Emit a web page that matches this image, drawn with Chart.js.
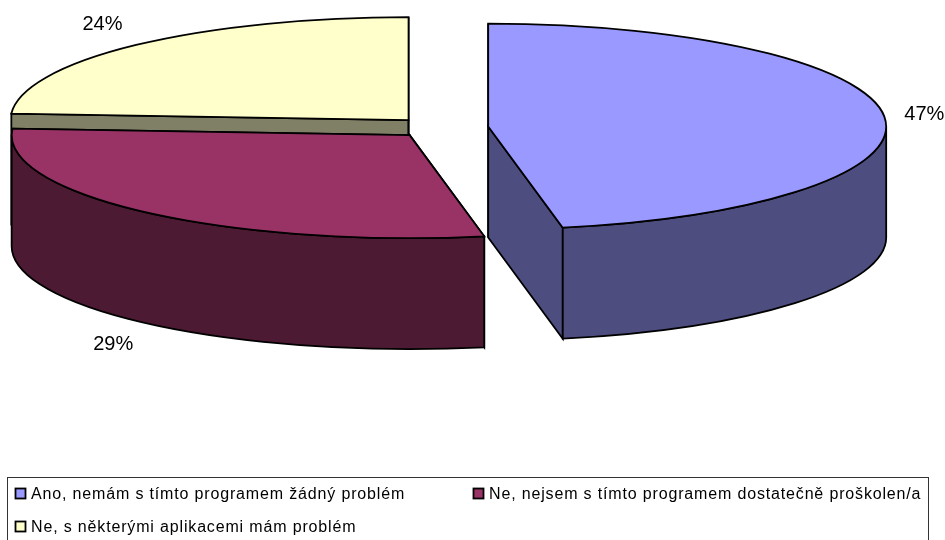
<!DOCTYPE html>
<html lang="cs">
<head>
  <meta charset="UTF-8">
  <title>Koláčový graf</title>
  <script src="https://cdn.jsdelivr.net/npm/chart.js"></script>
  <style>
    html, body { margin: 0; padding: 0; background: white; overflow: hidden; }
    canvas { display: block; }
  </style>
</head>
<body>
  <canvas id="pieChart" width="945" height="540"></canvas>

  <script>
    const labels = [
      'Ano, nemám s tímto programem žádný problém',
      'Ne, nejsem s tímto programem dostatečně proškolen/a',
      'Ne, s některými aplikacemi mám problém'
    ];
    const values = [47, 29, 24];
    const topColors = ['#9999ff', '#993366', '#ffffcc'];
    const wallColors = ['#4d4d80', '#4d1a33', '#808066'];

    // pie tilt: ellipse radii, wall height, how far slices are pulled out
    const rx = 398, ry = 103, depth = 111;
    const explodeX = 47.4, explodeY = 10.2;
    const drawOrder = [2, 0, 1]; // back to front
    const edgeWidth = 1.8;

    function sliceCenter(arc) {
      const mid = (arc.startAngle + arc.endAngle) / 2;
      return { x: arc.x + Math.cos(mid) * explodeX, y: arc.y + Math.sin(mid) * explodeY };
    }

    function rimPoint(c, angle) {
      return { x: c.x + rx * Math.cos(angle), y: c.y + ry * Math.sin(angle) };
    }

    function paint(ctx, color) {
      ctx.fillStyle = color;
      ctx.fill();
      ctx.lineWidth = edgeWidth;
      ctx.strokeStyle = '#000';
      ctx.stroke();
    }

    function drawCutFace(ctx, c, angle, color) {
      const p = rimPoint(c, angle);
      ctx.beginPath();
      ctx.moveTo(c.x, c.y);
      ctx.lineTo(p.x, p.y);
      ctx.lineTo(p.x, p.y + depth);
      ctx.lineTo(c.x, c.y + depth);
      ctx.closePath();
      paint(ctx, color);
    }

    function drawOuterWall(ctx, c, arc, color) {
      const from = Math.max(arc.startAngle, 0);
      const to = Math.min(arc.endAngle, Math.PI);
      if (from >= to) return;
      ctx.beginPath();
      ctx.ellipse(c.x, c.y, rx, ry, 0, from, to);
      ctx.ellipse(c.x, c.y + depth, rx, ry, 0, to, from, true);
      ctx.closePath();
      paint(ctx, color);
    }

    const pie3d = {
      id: 'pie3d',
      beforeDatasetDraw(chart, args) {
        const ctx = chart.ctx;
        const arcs = args.meta.data;
        drawOrder.forEach(i => {
          const arc = arcs[i];
          const c = sliceCenter(arc);
          drawCutFace(ctx, c, arc.startAngle, wallColors[i]);
          drawCutFace(ctx, c, arc.endAngle, wallColors[i]);
          drawOuterWall(ctx, c, arc, wallColors[i]);

          // top face comes from the library's arc, squashed into the ellipse
          ctx.save();
          ctx.translate(c.x, c.y);
          ctx.scale(rx / arc.outerRadius, ry / arc.outerRadius);
          ctx.translate(-arc.x, -arc.y);
          arc.draw(ctx);
          ctx.restore();

          ctx.beginPath();
          ctx.moveTo(c.x, c.y);
          ctx.ellipse(c.x, c.y, rx, ry, 0, arc.startAngle, arc.endAngle);
          ctx.closePath();
          ctx.lineWidth = edgeWidth;
          ctx.strokeStyle = '#000';
          ctx.stroke();
        });
        return false;
      },
      afterDraw(chart) {
        const ctx = chart.ctx;
        const arcs = chart.getDatasetMeta(0).data;
        ctx.save();

        // percentage labels, pushed out from the rim of each slice
        ctx.font = '20px "Liberation Sans", Arial, sans-serif';
        ctx.fillStyle = '#000';
        ctx.textBaseline = 'middle';
        arcs.forEach((arc, i) => {
          const mid = (arc.startAngle + arc.endAngle) / 2;
          const p = rimPoint(sliceCenter(arc), mid);
          const wall = Math.sin(mid) > 0 ? depth : 0;
          ctx.textAlign = Math.cos(mid) > 0 ? 'left' : 'right';
          ctx.fillText(values[i] + '%', p.x + Math.cos(mid) * 20, p.y + wall + Math.sin(mid) * 28);
        });

        // legend box
        ctx.lineWidth = 1;
        ctx.strokeStyle = '#333';
        ctx.strokeRect(7.5, 477.5, 921, 70);
        const spots = [[15, 488], [473, 488], [15, 521]];
        ctx.font = '16px "Liberation Sans", Arial, sans-serif';
        ctx.letterSpacing = '0.84px';
        ctx.textAlign = 'left';
        ctx.textBaseline = 'alphabetic';
        labels.forEach((label, i) => {
          const [x, y] = spots[i];
          ctx.fillStyle = topColors[i];
          ctx.fillRect(x + 0.5, y + 0.5, 10, 10);
          ctx.lineWidth = edgeWidth;
          ctx.strokeStyle = '#000';
          ctx.strokeRect(x + 0.5, y + 0.5, 10, 10);
          ctx.fillStyle = '#000';
          ctx.fillText(label, x + 16, y + 11);
        });
        ctx.restore();
      }
    };

    new Chart(document.getElementById('pieChart').getContext('2d'), {
      type: 'pie',
      data: {
        labels: labels,
        datasets: [{
          data: values,
          backgroundColor: topColors,
          borderWidth: 0
        }]
      },
      options: {
        responsive: false,
        animation: false,
        layout: { padding: { left: 0, top: 0, right: 63, bottom: 285 } },
        plugins: {
          legend: { display: false },
          tooltip: { enabled: false }
        }
      },
      plugins: [pie3d]
    });
  </script>
</body>
</html>
